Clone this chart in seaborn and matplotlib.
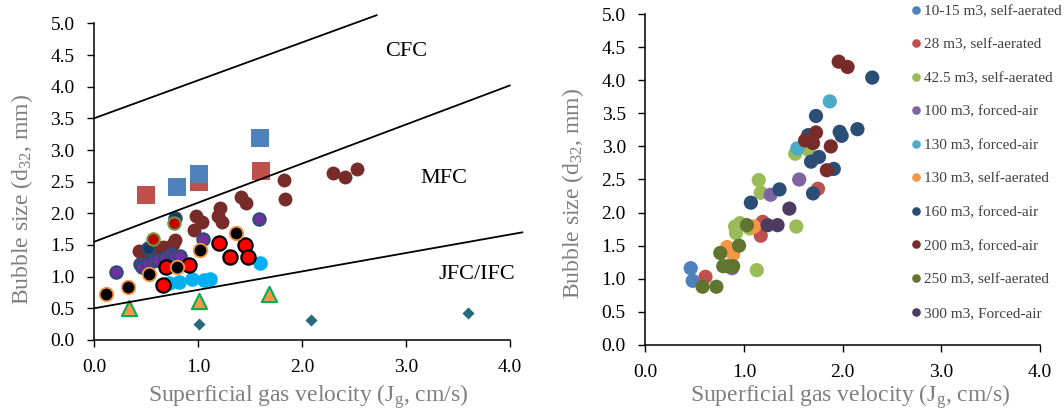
import matplotlib
matplotlib.use('Agg')
import matplotlib.pyplot as plt
from matplotlib.lines import Line2D
import seaborn as sns
import pandas as pd

# ---------------- left chart data (flow regime map) ----------------
sq_red_x = [0.50, 1.01, 1.61]
sq_red_y = [2.29, 2.49, 2.67]
sq_blue_x = [0.80, 1.01, 1.60]
sq_blue_y = [2.41, 2.62, 3.19]
maroon_x = [0.43, 0.48, 0.55, 0.62, 0.66, 0.72, 0.76, 0.78, 0.96, 0.98, 1.04,
            1.19, 1.21, 1.23, 1.41, 1.46, 1.83, 1.84, 2.30, 2.41, 2.53]
maroon_y = [1.40, 1.32, 1.37, 1.42, 1.47, 1.47, 1.52, 1.58, 1.74, 1.95, 1.87,
            1.95, 2.08, 1.86, 2.26, 2.16, 2.52, 2.22, 2.63, 2.58, 2.70]
purple_x = [0.21, 0.44, 0.46, 0.52, 0.57, 0.62, 0.68, 0.74, 0.78, 0.83, 1.05, 1.59]
purple_y = [1.08, 1.20, 1.15, 1.22, 1.24, 1.27, 1.29, 1.36, 1.32, 1.33, 1.59, 1.91]
navy_x = [0.52, 0.78]
navy_y = [1.46, 1.93]
redgreen_x = [0.57, 0.77]
redgreen_y = [1.60, 1.85]
lblue_x = [0.72, 0.82, 0.94, 1.06, 1.12, 1.60]
lblue_y = [0.90, 0.92, 0.96, 0.94, 0.97, 1.21]
redblack_x = [0.66, 0.69, 0.91, 1.20, 1.31, 1.45, 1.48]
redblack_y = [0.87, 1.15, 1.18, 1.53, 1.31, 1.50, 1.31]
blackorange_x = [0.12, 0.33, 0.53, 0.80, 1.02, 1.37]
blackorange_y = [0.72, 0.83, 1.04, 1.16, 1.42, 1.69]
tri_x = [0.34, 1.01, 1.68]
tri_y = [0.50, 0.62, 0.72]
diam_x = [1.01, 2.09, 3.60]
diam_y = [0.25, 0.31, 0.42]

# regime boundaries
cfc_x = [0.0, 2.72]
cfc_y = [3.50, 5.13]
mfc_x = [0.0, 4.0]
mfc_y = [1.55, 4.02]
jfc_x = [0.0, 4.12]
jfc_y = [0.50, 1.70]

regime_labels = ['CFC', 'MFC', 'JFC/IFC']
regime_x = [3.0, 3.36, 3.68]
regime_y = [4.55, 2.55, 1.03]

# ---------------- right chart data (by tank size) ----------------
groups = ['10-15 m3, self-aerated', '28 m3, self-aerated', '42.5 m3, self-aerated',
          '100 m3, forced-air', '130 m3, forced-air', '130 m3, self-aerated',
          '160 m3, forced-air', '200 m3, forced-air', '250 m3, self-aerated',
          '300 m3, Forced-air']
group_colors = ['#4F81BD', '#C0504D', '#9BBB59', '#8064A2', '#4BACC6', '#F79646',
                '#2C4D75', '#772C2A', '#5F7530', '#4D3B62']

jg_10 = [0.46, 0.48]
d32_10 = [1.16, 0.97]
jg_28 = [0.61, 1.17, 1.19, 1.75]
d32_28 = [1.03, 1.65, 1.86, 2.36]
jg_42 = [0.91, 0.92, 0.96, 1.06, 1.13, 1.15, 1.17, 1.53, 1.52, 1.65]
d32_42 = [1.79, 1.69, 1.84, 1.76, 1.13, 2.49, 2.30, 1.79, 2.89, 2.95]
jg_100 = [0.88, 1.27, 1.56]
d32_100 = [1.16, 2.27, 2.50]
jg_130f = [1.54, 1.87]
d32_130f = [2.97, 3.68]
jg_130s = [0.83, 0.89, 1.10]
d32_130s = [1.48, 1.37, 1.79]
jg_160 = [1.07, 1.36, 1.65, 1.68, 1.70, 1.73, 1.76, 1.91, 1.97, 1.99, 2.15, 2.30]
d32_160 = [2.15, 2.35, 3.17, 2.77, 2.29, 3.46, 2.84, 2.66, 3.22, 3.16, 3.26, 4.04]
jg_200 = [1.62, 1.70, 1.73, 1.84, 1.88, 1.96, 2.05]
d32_200 = [3.09, 3.05, 3.21, 2.64, 3.00, 4.28, 4.20]
jg_250 = [0.58, 0.72, 0.76, 0.79, 0.84, 0.89, 0.95, 1.03]
d32_250 = [0.88, 0.88, 1.39, 1.19, 1.19, 1.19, 1.50, 1.81]
jg_300 = [1.24, 1.34, 1.46]
d32_300 = [1.81, 1.81, 2.06]

jg_all = [jg_10, jg_28, jg_42, jg_100, jg_130f, jg_130s, jg_160, jg_200, jg_250, jg_300]
d32_all = [d32_10, d32_28, d32_42, d32_100, d32_130f, d32_130s, d32_160, d32_200, d32_250, d32_300]

rows = []
for g, xs, ys in zip(groups, jg_all, d32_all):
    for xv, yv in zip(xs, ys):
        rows.append({'jg': xv, 'd32': yv, 'group': g})
df_right = pd.DataFrame(rows)

# ---------------- style ----------------
sns.set_style('ticks')
plt.rcParams['font.family'] = ['Liberation Serif', 'DejaVu Serif']
label_color = '#7f7f7f'

fig = plt.figure(figsize=(10.64, 4.17), dpi=100)
ax1 = fig.add_axes([0.0883, 0.1847, 0.391, 0.7593])
ax2 = fig.add_axes([0.6065, 0.1727, 0.3709, 0.7937])

# ---------------- left chart ----------------
ax1.plot(cfc_x, cfc_y, color='black', lw=1.3, clip_on=False)
ax1.plot(mfc_x, mfc_y, color='black', lw=1.3, clip_on=False)
ax1.plot(jfc_x, jfc_y, color='black', lw=1.3, clip_on=False)

sns.scatterplot(x=sq_red_x, y=sq_red_y, marker='s', color='#C0504D', s=150, linewidth=0, ax=ax1)
sns.scatterplot(x=sq_blue_x, y=sq_blue_y, marker='s', color='#4F81BD', s=150, linewidth=0, ax=ax1)
sns.scatterplot(x=maroon_x, y=maroon_y, marker='o', color='#772C2A', s=100, linewidth=0, ax=ax1)
sns.scatterplot(x=purple_x, y=purple_y, marker='o', color='#7030A0', edgecolor='#2C4D75',
                s=80, linewidth=1.5, ax=ax1)
sns.scatterplot(x=navy_x, y=navy_y, marker='o', color='#17375E', edgecolor='#2C4D75',
                s=80, linewidth=1.5, ax=ax1)
sns.scatterplot(x=redgreen_x, y=redgreen_y, marker='o', color='#C00000', edgecolor='#77933C',
                s=80, linewidth=1.5, ax=ax1)
sns.scatterplot(x=lblue_x, y=lblue_y, marker='o', color='#00B0F0', s=110, linewidth=0, ax=ax1)
sns.scatterplot(x=redblack_x, y=redblack_y, marker='o', color='#FF0000', edgecolor='black',
                s=105, linewidth=1.6, ax=ax1)
sns.scatterplot(x=blackorange_x, y=blackorange_y, marker='o', color='black', edgecolor='#F79646',
                s=95, linewidth=1.3, ax=ax1)
sns.scatterplot(x=tri_x, y=tri_y, marker='^', color='#F79646', edgecolor='#00B050',
                s=120, linewidth=1.5, ax=ax1)
sns.scatterplot(x=diam_x, y=diam_y, marker='D', color='#276A7C', s=38, linewidth=0, ax=ax1)

for lab, xv, yv in zip(regime_labels, regime_x, regime_y):
    ax1.text(xv, yv, lab, fontsize=16, ha='center', va='center', color='black')

# ---------------- right chart ----------------
sns.scatterplot(data=df_right, x='jg', y='d32', hue='group', hue_order=groups,
                palette=dict(zip(groups, group_colors)), s=105, linewidth=0,
                legend=False, ax=ax2)

handles = [Line2D([], [], marker='o', linestyle='', markersize=6.2, markeredgewidth=0,
                  color=c) for c in group_colors]
leg = ax2.legend(handles, groups, loc='upper left', bbox_to_anchor=(0.8553, 0.99),
                 bbox_transform=fig.transFigure, frameon=False, fontsize=11,
                 handlelength=0.75, handletextpad=0.15, labelspacing=1.30,
                 borderpad=0, borderaxespad=0)
for t in leg.get_texts():
    t.set_color('#404040')

# ---------------- axes formatting ----------------
for ax, lx, ly, xly in [(ax1, -0.174, 0.445, -0.18), (ax2, -0.183, 0.459, -0.157)]:
    ax.set_xlim(0, 4)
    ax.set_ylim(0, 5)
    ax.set_xticks([0, 1, 2, 3, 4])
    ax.set_yticks([0, 0.5, 1, 1.5, 2, 2.5, 3, 3.5, 4, 4.5, 5])
    ax.xaxis.set_major_formatter(matplotlib.ticker.FormatStrFormatter('%.1f'))
    ax.yaxis.set_major_formatter(matplotlib.ticker.FormatStrFormatter('%.1f'))
    ax.tick_params(direction='out', length=5, width=1, labelsize=14, pad=9, colors='black')
    sns.despine(ax=ax)
    for sp in ['left', 'bottom']:
        ax.spines[sp].set_linewidth(1.1)
        ax.spines[sp].set_color('black')
    ax.set_xlabel(r'Superficial gas velocity ($\mathregular{J_{g}}$, cm/s)', fontsize=17,
                  color=label_color, va='center')
    ax.set_ylabel(r'Bubble size ($\mathregular{d_{32}}$, mm)', fontsize=17,
                  color=label_color, va='center')
    ax.xaxis.set_label_coords(0.516 if ax is ax1 else 0.519, xly)
    ax.yaxis.set_label_coords(lx, ly)

fig.savefig('out.png', dpi=100)
